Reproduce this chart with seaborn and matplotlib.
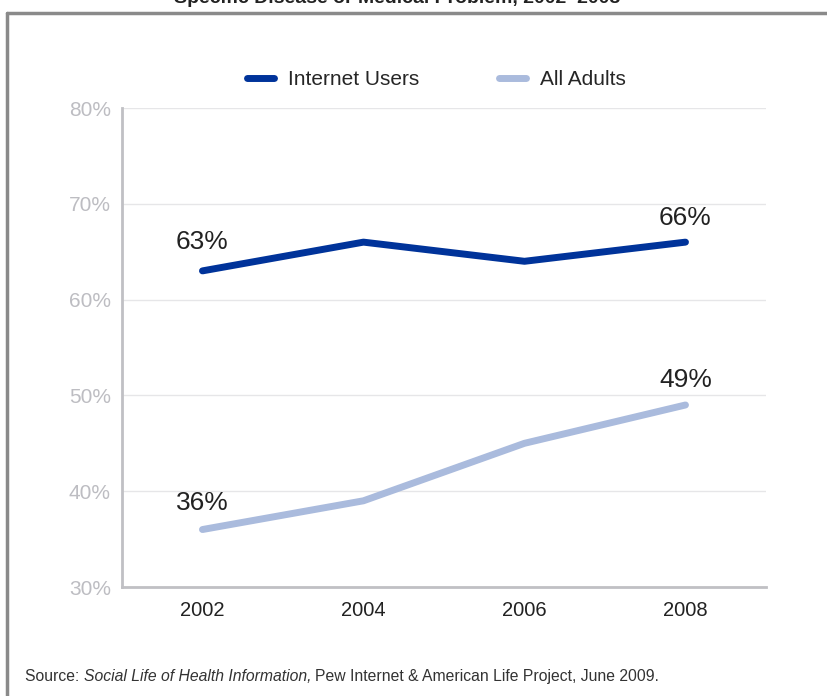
import numpy as np
import pandas as pd
import seaborn as sns
import matplotlib.pyplot as plt
from matplotlib.lines import Line2D

years = [2002, 2004, 2006, 2008]
internet_users = [63, 66, 64, 66]
all_adults = [36, 39, 45, 49]
series_names = ['Internet Users', 'All Adults']
colors = ['#00339A', '#AABBDD']

df = pd.DataFrame({
    'year': years * 2,
    'value': internet_users + all_adults,
    'group': [series_names[0]] * 4 + [series_names[1]] * 4,
})

sns.set_style('white')
plt.rcParams['font.family'] = ['Liberation Sans', 'DejaVu Sans']

fig = plt.figure(figsize=(8.28, 6.96), dpi=100)
ax = fig.add_axes([0.1473, 0.1566, 0.7778, 0.6882])

sns.lineplot(data=df, x='year', y='value', hue='group', palette=colors,
             linewidth=5, legend=False, ax=ax, solid_capstyle='round')

ax.set_xlim(2001, 2009)
ax.set_ylim(30, 80)
ax.set_xticks(years)
ax.set_xticklabels([str(y) for y in years], fontsize=14.5, color='#222222')
ax.set_yticks([30, 40, 50, 60, 70, 80])
ax.set_yticklabels(['30%', '40%', '50%', '60%', '70%', '80%'], fontsize=15, color='#BDBDC2')
ax.yaxis.grid(True, color='#E6E6E8', linewidth=1)
ax.set_xlabel('')
ax.set_ylabel('')
ax.tick_params(axis='x', direction='in', length=6, color='#C0C0C4', pad=10)
ax.tick_params(axis='y', length=0, pad=8)
for side in ['top', 'right']:
    ax.spines[side].set_visible(False)
for side in ['left', 'bottom']:
    ax.spines[side].set_color('#C0C0C4')
    ax.spines[side].set_linewidth(2)

# value labels
lab_kw = dict(ha='center', va='center', fontsize=19, color='#222222')
ax.text(2002, 66.0, '63%', **lab_kw)
ax.text(2008, 68.5, '66%', **lab_kw)
ax.text(2002, 38.8, '36%', **lab_kw)
ax.text(2008, 51.6, '49%', **lab_kw)

handles = [Line2D([0], [0], color=c, lw=5, solid_capstyle='round') for c in colors]
fig.legend(handles, series_names, loc='center', bbox_to_anchor=(0.527, 0.886),
           ncol=2, frameon=False, fontsize=15, handlelength=1.3, columnspacing=3.8,
           handletextpad=0.7)

# outer frame
fig.add_artist(Line2D([7 / 828, 1], [1 - 13 / 696, 1 - 13 / 696], color='#8A8A8A', lw=2.5))
fig.add_artist(Line2D([7 / 828, 7 / 828], [0, 1 - 13 / 696], color='#8A8A8A', lw=2.5))

fig.text(397 / 828, 1 - 3 / 696, 'Specific Disease or Medical Problem, 2002\u20132008',
         ha='center', va='baseline', fontsize=14, fontweight='bold', color='#222222')

src_y = 1 - 681 / 696
src_kw = dict(fontsize=11.3, color='#333333', va='baseline')
t1 = fig.text(25 / 828, src_y, 'Source: ', **src_kw)
fig.canvas.draw()
x = t1.get_window_extent().x1 / fig.bbox.width
t2 = fig.text(x, src_y, 'Social Life of Health Information,', style='italic', **src_kw)
fig.canvas.draw()
x = t2.get_window_extent().x1 / fig.bbox.width
fig.text(x + 4 / 828, src_y, 'Pew Internet & American Life Project, June 2009.', **src_kw)

fig.savefig('out.png', dpi=100)
